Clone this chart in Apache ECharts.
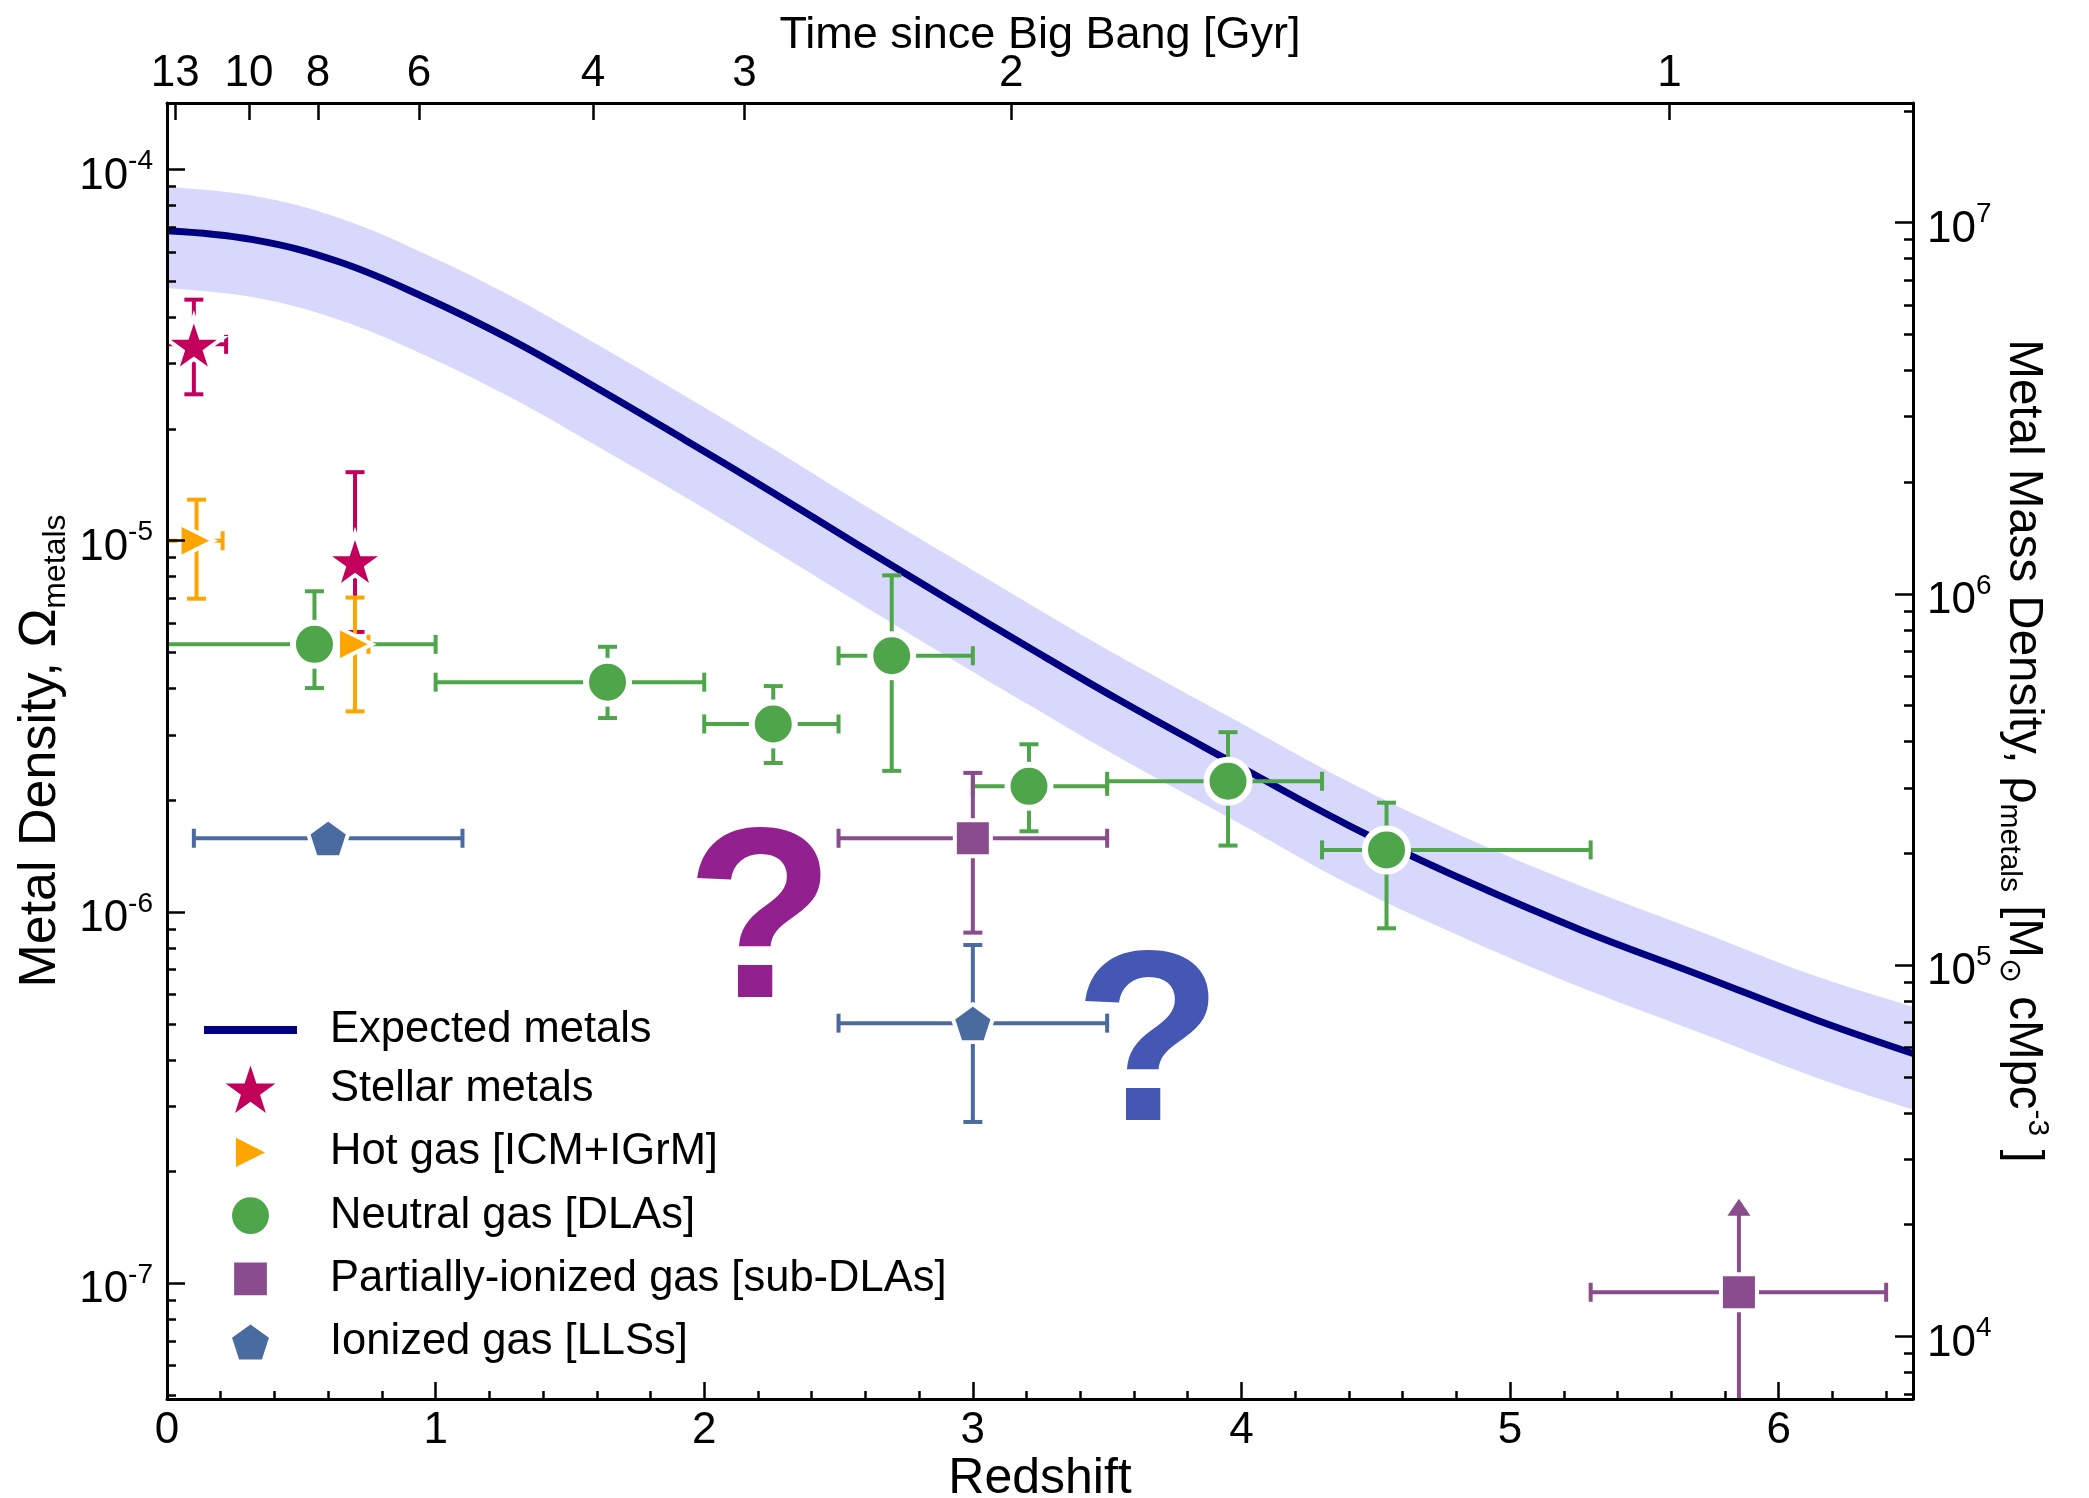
<!DOCTYPE html>
<html><head><meta charset="utf-8">
<script src="https://cdn.jsdelivr.net/npm/echarts@6/dist/echarts.min.js"></script>
<style>html,body{margin:0;padding:0;background:#fff}#c{width:2089px;height:1498px}</style>
</head><body><div id="c"></div>
<script>
// ---------------- data ----------------
const curveZ      = [0, 0.32, 0.64, 0.96, 1.28, 1.6, 1.93, 2.25, 2.57, 2.89, 3.21, 3.54, 3.97, 4.4, 4.84, 5.27, 5.71, 6.14, 6.5];
const curveOmega  = [6.84e-5, 6.47e-5, 5.64e-5, 4.52e-5, 3.48e-5, 2.58e-5, 1.866e-5, 1.355e-5, 9.77e-6, 7.08e-6, 5.15e-6, 3.74e-6, 2.52e-6, 1.71e-6, 1.21e-6, 8.91e-7, 6.75e-7, 5.12e-7, 4.16e-7];
const bandUpper   = [8.97e-5, 8.49e-5, 7.40e-5, 5.93e-5, 4.56e-5, 3.38e-5, 2.45e-5, 1.78e-5, 1.28e-5, 9.29e-6, 6.76e-6, 4.91e-6, 3.31e-6, 2.24e-6, 1.58e-6, 1.17e-6, 8.85e-7, 6.71e-7, 5.56e-7];
const bandLower   = [4.79e-5, 4.53e-5, 3.94e-5, 3.16e-5, 2.43e-5, 1.80e-5, 1.31e-5, 9.48e-6, 6.84e-6, 4.95e-6, 3.61e-6, 2.62e-6, 1.77e-6, 1.19e-6, 8.45e-7, 6.24e-7, 4.72e-7, 3.58e-7, 2.94e-7];

const stellarZ       = [0.10, 0.70];
const stellarOmega   = [3.38e-5, 8.83e-6];
const stellarOmegaLo = [2.48e-5, 5.68e-6];
const stellarOmegaHi = [4.46e-5, 1.53e-5];
const stellarZLo     = [-0.02, null];
const stellarZHi     = [0.22, null];

const hotZ       = [0.11, 0.70];
const hotOmega   = [1.0e-5, 5.26e-6];
const hotOmegaLo = [6.98e-6, 3.47e-6];
const hotOmegaHi = [1.29e-5, 7.03e-6];
const hotZLo     = [0.0, 0.65];
const hotZHi     = [0.207, 0.75];

const dlaZ       = [0.549, 1.640, 2.257, 2.698, 3.209, 3.950, 4.540];
const dlaOmega   = [5.26e-6, 4.16e-6, 3.21e-6, 4.90e-6, 2.18e-6, 2.25e-6, 1.47e-6];
const dlaOmegaLo = [4.01e-6, 3.33e-6, 2.52e-6, 2.40e-6, 1.65e-6, 1.51e-6, 9.04e-7];
const dlaOmegaHi = [7.31e-6, 5.18e-6, 4.06e-6, 8.07e-6, 2.83e-6, 3.05e-6, 1.97e-6];
const dlaZLo     = [-0.05, 1.0, 2.0, 2.5, 3.0, 3.5, 4.3];
const dlaZHi     = [1.0, 2.0, 2.5, 3.0, 3.5, 4.3, 5.3];

const subZ          = [3.0, 5.852];
const subOmega      = [1.58e-6, 9.46e-8];
const subOmegaLo    = [8.8e-7, 1e-9];
const subOmegaHi    = [2.37e-6, 1.69e-7];
const subZLo        = [2.5, 5.3];
const subZHi        = [3.5, 6.4];
const subLowerLimit = [false, true];

const llsZ       = [0.60, 3.0];
const llsOmega   = [1.58e-6, 5.02e-7];
const llsOmegaLo = [null, 2.72e-7];
const llsOmegaHi = [null, 8.15e-7];
const llsZLo     = [0.10, 2.5];
const llsZHi     = [1.10, 3.5];

const questionZ     = [2.208, 3.653];
const questionOmega = [9.77e-7, 4.55e-7];

// axes / tick labels
const redshiftTicks  = [0, 1, 2, 3, 4, 5, 6];
const ageLabels      = ['13', '10', '8', '6', '4', '3', '2', '1'];
const ageRedshifts   = [0.031, 0.305, 0.562, 0.938, 1.586, 2.150, 3.143, 5.593];
const omegaExponents = [-7, -6, -5, -4];
const rhoExponents   = [4, 5, 6, 7];
const omegaMin = 4.88e-8, omegaMax = 1.51e-4, rhoPerOmega = 1.39e11;

// ---------------- helpers ----------------
const L = Math.log10;
const FONT_A = "'Liberation Sans', Arial, Helvetica, sans-serif";
const CAP = 9.5, HEAD_W = 23, HEAD_H = 17;

const minorZ = [];
for (let k = 1; k < 33; k++) if (k % 5 !== 0) minorZ.push(Math.round(k * 2) / 10);
function minorLogs(lo, hi) {
  const out = [];
  for (let n = Math.floor(lo) - 1; n <= Math.ceil(hi); n++)
    for (let m = 2; m <= 9; m++) { const v = L(m) + n; if (v > lo && v < hi) out.push(v); }
  return out;
}
const yMinL = L(omegaMin), yMaxL = L(omegaMax);
const rMinL = L(omegaMin * rhoPerOmega), rMaxL = L(omegaMax * rhoPerOmega);

function starPts() { const p = []; for (let k = 0; k < 10; k++) { const a = (-90 + 36 * k) * Math.PI / 180, r = k % 2 ? 0.382 : 1; p.push([r * Math.cos(a), r * Math.sin(a)]); } return p; }
function pentPts() { const p = []; for (let k = 0; k < 5; k++) { const a = (-90 + 72 * k) * Math.PI / 180; p.push([Math.cos(a), Math.sin(a)]); } return p; }
const triPts = [[0, 0], [1, 0.5], [0, 1]];
const sqPts = [[0, 0], [1, 0], [1, 1], [0, 1]];
function polyPath(pts, w, pad) {
  const xs = pts.map(p => p[0]), ys = pts.map(p => p[1]);
  const x0 = Math.min(...xs), x1 = Math.max(...xs), y0 = Math.min(...ys), y1 = Math.max(...ys);
  const s = w / (x1 - x0), cx = (x0 + x1) / 2, cy = (y0 + y1) / 2;
  return 'path://' + (pad ? 'M0,0 M100,100 ' : '') + 'M' +
    pts.map(p => ((p[0] - cx) * s + 50).toFixed(2) + ',' + ((p[1] - cy) * s + 50).toFixed(2)).join(' L') + ' Z';
}
const circleIcon = 'path://M0,0 M100,100 M14.5,50 A35.5,35.5 0 1 1 85.5,50 A35.5,35.5 0 1 1 14.5,50 Z';
const lineIcon = 'path://M0,0 L93,0 L93,8 L0,8 Z';

const C = { navy: '#000080', band: '#D8D8FD', star: '#C2005C', hot: '#FFA500', dla: '#4FA64A',
            sub: '#894C8C', lls: '#4A6BA0', q: ['#93208F', '#4457B3'] };

function errSeries(id, color, z, v, vLo, vHi, zLo, zHi, lowerLim) {
  return {
    type: 'custom', id: id, name: id, xAxisIndex: 0, yAxisIndex: 0, clip: true, silent: true, z: 3,
    data: z.map((zz, i) => [zz, L(v[i])]),
    renderItem: function (params, api) {
      const i = params.dataIndex, ch = [];
      const st = { stroke: color, lineWidth: 4 };
      const ln = (x1, y1, x2, y2) => ch.push({ type: 'line', shape: { x1, y1, x2, y2 }, style: st });
      const cy = L(v[i]);
      if (zLo[i] != null) {
        const a = api.coord([zLo[i], cy]), b = api.coord([zHi[i], cy]);
        ln(a[0], a[1], b[0], b[1]);
        ln(a[0], a[1] - CAP, a[0], a[1] + CAP);
        ln(b[0], b[1] - CAP, b[0], b[1] + CAP);
      }
      if (vLo[i] != null) {
        const lo = api.coord([z[i], L(vLo[i])]), hi = api.coord([z[i], L(vHi[i])]);
        if (lowerLim && lowerLim[i]) {
          ln(lo[0], lo[1], hi[0], hi[1] + HEAD_H - 1);
          ch.push({ type: 'polygon', shape: { points: [[hi[0], hi[1]], [hi[0] - HEAD_W / 2, hi[1] + HEAD_H], [hi[0] + HEAD_W / 2, hi[1] + HEAD_H]] }, style: { fill: color } });
        } else {
          ln(lo[0], lo[1], hi[0], hi[1]);
          ln(lo[0] - CAP, lo[1], lo[0] + CAP, lo[1]);
          ln(hi[0] - CAP, hi[1], hi[0] + CAP, hi[1]);
        }
      }
      return { type: 'group', children: ch };
    }
  };
}
function markSeries(name, color, z, v, symbol, size, bw) {
  return { type: 'scatter', name: name, xAxisIndex: 0, yAxisIndex: 0, z: 4, silent: true,
    data: z.map((zz, i) => [zz, L(v[i])]), symbol: symbol, symbolSize: size,
    itemStyle: { color: color, borderColor: '#fff', borderWidth: bw, opacity: 1 } };
}

const axisLineStyle = { color: '#000', width: 3 };
const tickStyle = { color: '#000', width: 2.5 };
const supRich = (fs) => ({
  b: { fontFamily: FONT_A, fontSize: fs, lineHeight: fs, padding: [14, 0, 0, 0], color: '#000' },
  s: { fontFamily: FONT_A, fontSize: 28, lineHeight: 34, verticalAlign: 'top', color: '#000' }
});
const AXZ = 10;

const option = {
  animation: false,
  backgroundColor: '#fff',
  grid: { left: 167, right: 176, top: 103, bottom: 99, containLabel: false, outerBoundsMode: 'none' },
  xAxis: [
    { type: 'value', position: 'bottom', min: 0, max: 6.5, z: AXZ,
      axisLine: { show: true, onZero: false, lineStyle: axisLineStyle },
      axisTick: { show: true, inside: true, length: 17, lineStyle: tickStyle, customValues: redshiftTicks },
      axisLabel: { show: true, customValues: redshiftTicks, margin: 10, fontFamily: FONT_A, fontSize: 44, lineHeight: 44, color: '#000', formatter: v => String(v) },
      splitLine: { show: false },
      name: 'Redshift', nameLocation: 'middle', nameGap: 52, nameMoveOverlap: false,
      nameTextStyle: { fontFamily: FONT_A, fontSize: 50, lineHeight: 56, color: '#000' } },
    { type: 'value', position: 'bottom', min: 0, max: 6.5, z: AXZ,
      axisLine: { show: false, onZero: false },
      axisTick: { show: true, inside: true, length: 8, lineStyle: tickStyle, customValues: minorZ },
      axisLabel: { show: false }, splitLine: { show: false } },
    { type: 'value', position: 'top', min: 0, max: 6.5, z: AXZ,
      axisLine: { show: true, onZero: false, lineStyle: axisLineStyle },
      axisTick: { show: true, inside: true, length: 17, lineStyle: tickStyle, customValues: ageRedshifts },
      axisLabel: { show: true, customValues: ageRedshifts, margin: 7, fontFamily: FONT_A, fontSize: 44, lineHeight: 44, color: '#000',
        formatter: v => { const i = ageRedshifts.findIndex(r => Math.abs(r - v) < 1e-6); return i >= 0 ? ageLabels[i] : ''; } },
      splitLine: { show: false },
      name: 'Time since Big Bang [Gyr]', nameLocation: 'middle', nameGap: 40, nameMoveOverlap: false,
      nameTextStyle: { fontFamily: FONT_A, fontSize: 45, lineHeight: 54, color: '#000' } }
  ],
  yAxis: [
    { type: 'value', position: 'left', min: yMinL, max: yMaxL, z: AXZ,
      axisLine: { show: true, onZero: false, lineStyle: axisLineStyle },
      axisTick: { show: true, inside: true, length: 18, lineStyle: tickStyle, customValues: omegaExponents },
      axisLabel: { show: true, customValues: omegaExponents, margin: 14, formatter: v => '{b|10}{s|' + Math.round(v) + '}', rich: supRich(44) },
      splitLine: { show: false },
      name: '{a|Metal Density, Ω}{s|metals}', nameLocation: 'middle', nameGap: 95, nameRotate: 90, nameMoveOverlap: false,
      nameTextStyle: { fontFamily: FONT_A, fontSize: 52, color: '#000',
        rich: { a: { fontFamily: FONT_A, fontSize: 52, lineHeight: 62, color: '#000' },
                s: { fontFamily: FONT_A, fontSize: 32, lineHeight: 22, verticalAlign: 'bottom', color: '#000' } } } },
    { type: 'value', position: 'left', min: yMinL, max: yMaxL, z: AXZ,
      axisLine: { show: false, onZero: false },
      axisTick: { show: true, inside: true, length: 9, lineStyle: tickStyle, customValues: minorLogs(yMinL, yMaxL) },
      axisLabel: { show: false }, splitLine: { show: false } },
    { type: 'value', position: 'right', min: rMinL, max: rMaxL, z: AXZ,
      axisLine: { show: true, onZero: false, lineStyle: axisLineStyle },
      axisTick: { show: true, inside: true, length: 18, lineStyle: tickStyle, customValues: rhoExponents },
      axisLabel: { show: true, customValues: rhoExponents, margin: 14, formatter: v => '{b|10}{s|' + Math.round(v) + '}', rich: supRich(44) },
      splitLine: { show: false },
      name: '{a|Metal Mass Density, ρ}{s|metals}{a| [M}{s|⊙}{a| cMpc}{p|-3}{a| ]}',
      nameLocation: 'middle', nameGap: 81, nameRotate: -90, nameMoveOverlap: false,
      nameTextStyle: { fontFamily: FONT_A, fontSize: 47.5, color: '#000',
        rich: { a: { fontFamily: FONT_A, fontSize: 47.5, lineHeight: 58, color: '#000' },
                s: { fontFamily: FONT_A, fontSize: 30, lineHeight: 22, verticalAlign: 'bottom', color: '#000' },
                p: { fontFamily: FONT_A, fontSize: 30, lineHeight: 24, verticalAlign: 'top', color: '#000' } } } },
    { type: 'value', position: 'right', min: rMinL, max: rMaxL, z: AXZ,
      axisLine: { show: false, onZero: false },
      axisTick: { show: true, inside: true, length: 9, lineStyle: tickStyle, customValues: minorLogs(rMinL, rMaxL) },
      axisLabel: { show: false }, splitLine: { show: false } }
  ],
  legend: {
    orient: 'vertical', left: 199, top: 1003, itemWidth: 93, itemHeight: 52, itemGap: 11.2,
    selectedMode: false, symbolKeepAspect: true, itemStyle: { borderWidth: 0 },
    formatter: n => '{t|' + n + '}',
    textStyle: { fontFamily: FONT_A, fontSize: 43.5, color: '#000',
      rich: { t: { fontFamily: FONT_A, fontSize: 43.5, lineHeight: 52, padding: [0, 0, 0, 28], color: '#000' } } },
    data: [
      { name: 'Expected metals', icon: lineIcon },
      { name: 'Stellar metals', icon: polyPath(starPts(), 96, true) },
      { name: 'Hot gas [ICM+IGrM]', icon: polyPath(triPts, 56, true) },
      { name: 'Neutral gas [DLAs]', icon: circleIcon },
      { name: 'Partially-ionized gas [sub-DLAs]', icon: polyPath(sqPts, 63, true) },
      { name: 'Ionized gas [LLSs]', icon: polyPath(pentPts(), 71, true) }
    ]
  },
  series: [
    // band: upper edge filled down to the axis, lower edge masked with white
    { type: 'line', name: 'bandUpper', xAxisIndex: 0, yAxisIndex: 0,
      data: curveZ.map((z, i) => [z, L(bandUpper[i])]), symbol: 'none', smooth: 0.4,
      lineStyle: { width: 0, opacity: 0 }, areaStyle: { color: C.band, opacity: 1, origin: 'start' }, silent: true, z: 1 },
    { type: 'line', name: 'bandLowerMask', xAxisIndex: 0, yAxisIndex: 0,
      data: curveZ.map((z, i) => [z, L(bandLower[i])]), symbol: 'none', smooth: 0.4,
      lineStyle: { width: 0, opacity: 0 }, areaStyle: { color: '#ffffff', opacity: 1, origin: 'start' }, silent: true, z: 1.1 },
    { type: 'line', name: 'Expected metals', xAxisIndex: 0, yAxisIndex: 0, color: C.navy,
      data: curveZ.map((z, i) => [z, L(curveOmega[i])]), symbol: 'none', smooth: 0.4,
      lineStyle: { color: C.navy, width: 7 }, itemStyle: { color: C.navy }, silent: true, z: 2 },

    errSeries('errStellar', C.star, stellarZ, stellarOmega, stellarOmegaLo, stellarOmegaHi, stellarZLo, stellarZHi),
    errSeries('errHot', C.hot, hotZ, hotOmega, hotOmegaLo, hotOmegaHi, hotZLo, hotZHi),
    errSeries('errDla', C.dla, dlaZ, dlaOmega, dlaOmegaLo, dlaOmegaHi, dlaZLo, dlaZHi),
    errSeries('errSub', C.sub, subZ, subOmega, subOmegaLo, subOmegaHi, subZLo, subZHi, subLowerLimit),
    errSeries('errLls', C.lls, llsZ, llsOmega, llsOmegaLo, llsOmegaHi, llsZLo, llsZHi),

    markSeries('Hot gas [ICM+IGrM]', C.hot, hotZ, hotOmega, polyPath(triPts, 100, false), [34, 34], 4),
    markSeries('Stellar metals', C.star, stellarZ, stellarOmega, polyPath(starPts(), 100, false), [58, 55], 4),
    markSeries('Neutral gas [DLAs]', C.dla, dlaZ, dlaOmega, 'circle', 43, 6),
    markSeries('Partially-ionized gas [sub-DLAs]', C.sub, subZ, subOmega, 'rect', [36, 36], 4),
    markSeries('Ionized gas [LLSs]', C.lls, llsZ, llsOmega, polyPath(pentPts(), 100, false), [40, 38], 4),

    { type: 'custom', name: 'questionMarks', xAxisIndex: 0, yAxisIndex: 0, silent: true, z: 6,
      data: questionZ.map((z, i) => [z, L(questionOmega[i])]),
      renderItem: function (params, api) {
        const p = api.coord([api.value(0), api.value(1)]);
        return { type: 'text', x: p[0], y: p[1] + 14,
          style: { text: '?', fill: C.q[params.dataIndex], fontFamily: FONT_A, fontWeight: 'bold', fontSize: 243,
                   align: 'center', verticalAlign: 'middle' } };
      } }
  ]
};
const chart = echarts.init(document.getElementById('c'), null, { renderer: 'canvas', width: 2089, height: 1498 });
chart.setOption(option);
</script></body></html>
